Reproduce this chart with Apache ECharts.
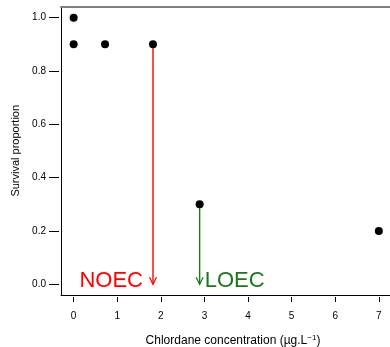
<!DOCTYPE html>
<html>
<head>
<meta charset="utf-8">
<script src="https://cdn.jsdelivr.net/npm/echarts@6/dist/echarts.min.js"></script>
<style>
html,body{margin:0;padding:0;background:#fff;}
#chart{width:390px;height:347px;}
</style>
</head>
<body>
<div id="chart"></div>
<script>
// ---- data ----
const concentration = [0, 0, 0.72, 1.82, 2.89, 7];
const survival = [1.0, 0.9, 0.9, 0.9, 0.3, 0.2];
const thresholdLabels = ['NOEC', 'LOEC'];
const thresholdConc = [1.82, 2.89];
const thresholdFrom = [0.9, 0.3];
const xTicks = [0, 1, 2, 3, 4, 5, 6, 7];
const yTicks = [0, 0.2, 0.4, 0.6, 0.8, 1.0];

// ---- styles ----
const FONT = 'Liberation Sans, Arial, Helvetica, sans-serif';
const thresholdColors = ['#ff0000', '#1a781a'];
const thresholdAlign = ['right', 'left'];
const thresholdDx = [-10, 5];

const XMIN = -0.29, XMAX = 7.6, YMIN = -0.04, YMAX = 1.042;

const chart = echarts.init(document.getElementById('chart'), null, {renderer: 'canvas'});

const pts = concentration.map((c, i) => [c, survival[i]]);
const thr = thresholdConc.map((c, i) => [c, thresholdFrom[i]]);

const option = {
  animation: false,
  backgroundColor: '#ffffff',
  grid: {left: 61, top: 6.5, width: 344, height: 288.5, containLabel: false, outerBoundsMode: 'none'},
  xAxis: [
    {type: 'value', min: XMIN, max: XMAX, position: 'bottom',
     axisLine: {show: true, onZero: false, lineStyle: {color: '#000', width: 1}},
     axisTick: {show: false}, axisLabel: {show: false}, splitLine: {show: false}},
    {type: 'value', min: XMIN, max: XMAX, position: 'bottom', offset: 2,
     axisLine: {show: false, onZero: false},
     axisTick: {show: true, customValues: xTicks, length: 5, lineStyle: {color: '#000'}},
     axisLabel: {show: true, customValues: xTicks, margin: 14, color: '#000', fontSize: 10, fontFamily: FONT},
     splitLine: {show: false},
     name: 'Chlordane concentration (µg.L{sup|−1})',
     nameLocation: 'middle', nameGap: 37,
     nameTextStyle: {color: '#000', fontSize: 12, fontFamily: FONT, lineHeight: 14,
       rich: {sup: {fontSize: 8, lineHeight: 14, verticalAlign: 'top', padding: [0, 0, 5, 0], fontFamily: FONT, color: '#000'}}}},
    {type: 'value', min: XMIN, max: XMAX, position: 'top',
     axisLine: {show: true, onZero: false, lineStyle: {color: '#808080', width: 2}},
     axisTick: {show: false}, axisLabel: {show: false}, splitLine: {show: false}}
  ],
  yAxis: [
    {type: 'value', min: YMIN, max: YMAX, position: 'left',
     axisLine: {show: true, onZero: false, lineStyle: {color: '#000', width: 1}},
     axisTick: {show: false}, axisLabel: {show: false}, splitLine: {show: false}},
    {type: 'value', min: YMIN, max: YMAX, position: 'left', offset: 2,
     axisLine: {show: false, onZero: false},
     axisTick: {show: true, customValues: yTicks, length: 10, lineStyle: {color: '#000'}},
     axisLabel: {show: true, customValues: yTicks, margin: 13, color: '#000', fontSize: 10, fontFamily: FONT,
       formatter: v => v.toFixed(1)},
     splitLine: {show: false},
     name: 'Survival proportion', nameLocation: 'middle', nameGap: 38,
     nameTextStyle: {color: '#000', fontSize: 11, fontFamily: FONT}}
  ],
  series: [
    {
      type: 'custom', xAxisIndex: 0, yAxisIndex: 0, data: thr, z: 2, clip: false,
      renderItem: function (params, api) {
        const i = params.dataIndex;
        const col = thresholdColors[i];
        const top = api.coord([api.value(0), api.value(1)]);
        const tip = api.coord([api.value(0), 0]);
        const x = tip[0];
        return {
          type: 'group',
          children: [
            {type: 'line', shape: {x1: x, y1: top[1], x2: x, y2: tip[1]},
             style: {stroke: col, lineWidth: 1.4}},
            {type: 'polyline', shape: {points: [[x - 3.5, tip[1] - 7], [x, tip[1]], [x + 3.5, tip[1] - 7]]},
             style: {stroke: col, fill: null, lineWidth: 1.2}},
            {type: 'text', x: x + thresholdDx[i], y: tip[1] - 3,
             style: {text: thresholdLabels[i], fill: col, font: '22px ' + FONT,
               align: thresholdAlign[i], verticalAlign: 'middle'}}
          ]
        };
      }
    },
    {
      type: 'scatter', xAxisIndex: 0, yAxisIndex: 0, data: pts, z: 5,
      symbol: 'circle', symbolSize: 8,
      itemStyle: {color: '#000', opacity: 1}
    }
  ]
};
chart.setOption(option);
</script>
</body>
</html>
